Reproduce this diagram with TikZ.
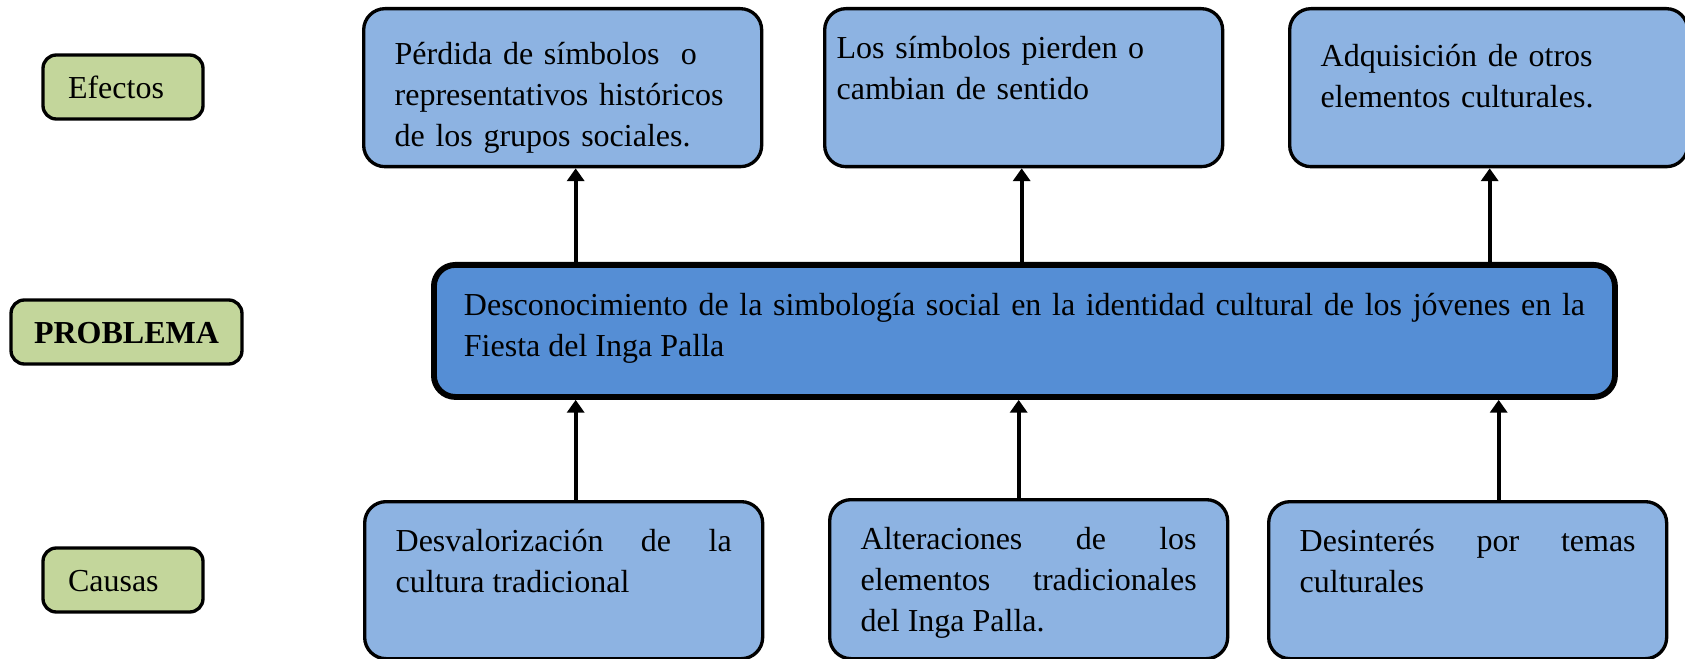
\documentclass[tikz,border=0pt]{standalone}
\usepackage{fontspec}
\setmainfont{Liberation Serif}
\usepackage{tikz}
\usetikzlibrary{arrows.meta}
\usetikzlibrary{positioning}

\definecolor{verde}{HTML}{C3D69B}
\definecolor{celeste}{HTML}{8DB3E2}
\definecolor{azul}{HTML}{558ED5}

\begin{document}
\begin{tikzpicture}[x=0.375pt,y=-0.375pt,
  every node/.style={font=\fontsize{12}{15.3}\selectfont},
  tag/.style={draw,line width=1.25pt,fill=verde,rounded corners=5pt,minimum height=24pt,text height=8.5pt,text depth=0pt},
  caja/.style={draw,line width=1.25pt,fill=celeste,rounded corners=8pt,anchor=north west,inner xsep=11.625pt,inner ysep=0pt,text width=126pt,text height=21pt,text depth=38.25pt},
  flecha/.style={line width=1.6pt,-{Triangle[length=4.8pt,width=6.4pt]}}]
  \useasboundingbox (0,0) rectangle (1685,659);

  \node[tag,text width=41.25pt,align=left,inner xsep=9.375pt] (efectos) at (123,87) {Efectos};
  \node[tag,minimum width=86.6pt,font=\fontsize{12}{15.3}\selectfont\bfseries] (problema) at (126.5,332) {PROBLEMA};
  \node[tag,text width=41.25pt,align=left,inner xsep=9.375pt] (causas) at (123,580) {Causas};

  \node[caja,align=left] (e1) at (362,7) {Pérdida de símbolos\ \ o\\representativos históricos\\de los grupos sociales.};
  \node[caja,align=left,inner xsep=4.5pt,text width=140.25pt,text height=18.75pt,text depth=40.5pt] (e2) at (823,7) {Los símbolos pierden o\\cambian de sentido};
  \node[caja,align=left,text height=21.75pt,text depth=37.5pt] (e3) at (1288,7) {Adquisición de otros\\elementos culturales.};

  \node[caja,fill=azul,line width=2.2pt,text width=420.375pt,inner xsep=11.25pt,text height=19.125pt,text depth=30.375pt,align=justify] (p) at (431,262) {\rightskip=7.125pt Desconocimiento de la simbología social en la identidad cultural de los jóvenes en la\linebreak Fiesta del Inga Palla};

  \node[caja,align=justify,text height=18.75pt,text depth=40.125pt] (c1) at (363,500) {Desvalorización de la\linebreak cultura tradicional};
  \node[caja,align=justify,text height=18.75pt,text depth=40.875pt] (c2) at (828,498) {Alteraciones de los\linebreak elementos tradicionales\linebreak del Inga Palla.};
  \node[caja,align=justify,text height=18.75pt,text depth=40.125pt] (c3) at (1267,500) {Desinterés por temas\linebreak culturales};

  % efectos
  \coordinate (s1) at ([xshift=4.875pt]e1.south);
  \coordinate (s2) at ([xshift=-0.75pt]e2.south);
  \coordinate (s3) at ([xshift=0.375pt]e3.south);
  \draw[flecha] (s1 |- p.north) -- (s1);
  \draw[flecha] (s2 |- p.north) -- (s2);
  \draw[flecha] (s3 |- p.north) -- (s3);

  % causas
  \coordinate (i1) at ([xshift=4.5pt]c1.north);
  \coordinate (i2) at ([xshift=-3.75pt]c2.north);
  \coordinate (i3) at ([xshift=11.625pt]c3.north);
  \draw[flecha] (i1) -- (i1 |- p.south);
  \draw[flecha] (i2) -- (i2 |- p.south);
  \draw[flecha] (i3) -- (i3 |- p.south);
\end{tikzpicture}
\end{document}
